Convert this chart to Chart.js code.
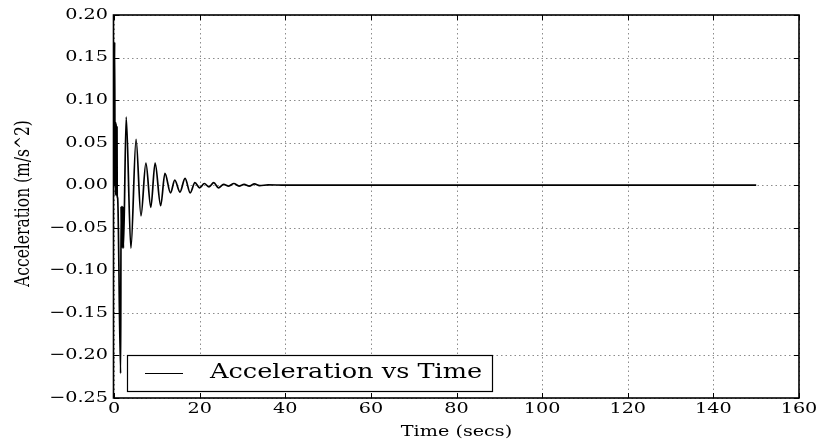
<!DOCTYPE html>
<html>
<head>
<meta charset="utf-8">
<script src="https://cdn.jsdelivr.net/npm/chart.js@4.4.1/dist/chart.umd.min.js"></script>
<style>
    body { margin: 0; background: #ffffff; }
    #chart-container { width: 818px; height: 445px; }
</style>
</head>
<body>
<div id="chart-container"><canvas id="accel-chart" width="818" height="445"></canvas></div>
<script>
var TIME_SECS = [0, 0.15, 0.25, 0.3, 0.35, 0.4, 0.45, 0.5, 0.55, 0.6, 0.65, 0.7, 0.75, 0.85,
    1.55, 1.65, 1.75, 1.85, 1.95, 2.05, 2.2, 2.85, 3.95, 5.15, 6.3, 7.45, 8.6, 9.6, 10.9,
    11.9, 13.2, 14.2, 15.4, 16.6, 17.8, 18.9, 20.0, 21.1, 22.2, 23.3, 24.4, 25.6, 26.8,
    28.0, 29.2, 30.4, 31.6, 32.8, 34.0, 36, 40, 150];
var ACCELERATION = [0, 0.168, 0.0, 0.074, -0.012, 0.074, -0.010, 0.072, -0.012, 0.070, -0.010, 0.068, -0.012, -0.015,
    -0.221, -0.025, -0.074, -0.025, -0.074, -0.025, -0.074, 0.080, -0.074, 0.054, -0.036, 0.026, -0.026, 0.026, -0.024,
    0.014, -0.009, 0.006, -0.008, 0.008, -0.009, 0.003, -0.003, 0.002, -0.002, 0.003, -0.003, 0.001, -0.001,
    0.002, -0.001, 0.001, -0.001, 0.0015, -0.0005, 0.0005, 0, 0];

var X_TICKS = [0, 20, 40, 60, 80, 100, 120, 140, 160];
var Y_TICKS = [0.20, 0.15, 0.10, 0.05, 0.00, -0.05, -0.10, -0.15, -0.20, -0.25];

var SERIES_LABEL = 'Acceleration vs Time';
var X_TITLE = 'Time (secs)';
var Y_TITLE = 'Acceleration (m/s^2)';

// картинка растянута по горизонтали, текст тоже
const STRETCH = 1.28;
const FONT = '"DejaVu Serif", serif';

function formatTick(v) {
    var s = Math.abs(v).toFixed(2);
    return (v < -1e-9 ? '\u2212' : '') + s;
}

function drawStretched(ctx, text, x, y, align) {
    ctx.save();
    ctx.translate(x, y);
    ctx.scale(STRETCH, 1);
    ctx.textAlign = align;
    ctx.textBaseline = 'middle';
    ctx.fillText(text, 0, 0);
    ctx.restore();
}

/******************* Grid (under the line) *********************/

var gridPlugin = {
    id: 'dottedGrid',
    beforeDatasetsDraw: function(chart) {
        var ctx = chart.ctx;
        var area = chart.chartArea;
        var xs = chart.scales.x, ys = chart.scales.y;
        ctx.save();
        ctx.strokeStyle = '#8c8c8c';
        ctx.lineWidth = 1;
        ctx.setLineDash([1.5, 3]);
        for (var v of X_TICKS) {
            var px = Math.round(xs.getPixelForValue(v)) + 0.5;
            ctx.beginPath();
            ctx.moveTo(px, area.top);
            ctx.lineTo(px, area.bottom);
            ctx.stroke();
        }
        for (var v of Y_TICKS) {
            var py = Math.round(ys.getPixelForValue(v)) + 0.5;
            ctx.beginPath();
            ctx.moveTo(area.left, py);
            ctx.lineTo(area.right, py);
            ctx.stroke();
        }
        ctx.restore();
    }
};

/******************* Frame, ticks, labels, legend *********************/

var framePlugin = {
    id: 'frameAndText',
    afterDraw: function(chart) {
        var ctx = chart.ctx;
        var area = chart.chartArea;
        var xs = chart.scales.x, ys = chart.scales.y;
        ctx.save();

        // рамка
        ctx.strokeStyle = '#000000';
        ctx.lineWidth = 1.6;
        ctx.strokeRect(area.left - 0.5, area.top, area.right - area.left + 0.5, area.bottom - area.top);

        // засечки внутрь со всех сторон
        ctx.lineWidth = 1;
        const TICK_LEN = 5;
        for (var v of X_TICKS) {
            var px = Math.round(xs.getPixelForValue(v)) + 0.5;
            ctx.beginPath();
            ctx.moveTo(px, area.bottom); ctx.lineTo(px, area.bottom - TICK_LEN);
            ctx.moveTo(px, area.top); ctx.lineTo(px, area.top + TICK_LEN);
            ctx.stroke();
        }
        for (var v of Y_TICKS) {
            var py = Math.round(ys.getPixelForValue(v)) + 0.5;
            ctx.beginPath();
            ctx.moveTo(area.left, py); ctx.lineTo(area.left + TICK_LEN, py);
            ctx.moveTo(area.right, py); ctx.lineTo(area.right - TICK_LEN, py);
            ctx.stroke();
        }

        // подписи делений
        ctx.fillStyle = '#000000';
        ctx.font = '15px ' + FONT;
        for (var v of X_TICKS) {
            drawStretched(ctx, String(v), xs.getPixelForValue(v), area.bottom + 11, 'center');
        }
        for (var v of Y_TICKS) {
            drawStretched(ctx, formatTick(v), area.left - 6, ys.getPixelForValue(v), 'right');
        }

        // подписи осей
        ctx.font = '15px ' + FONT;
        drawStretched(ctx, X_TITLE, (area.left + area.right) / 2, 432, 'center');

        ctx.save();
        ctx.translate(24, (area.top + area.bottom) / 2 - 3);
        ctx.rotate(-Math.PI / 2);
        ctx.scale(1, STRETCH);
        ctx.font = '15.5px ' + FONT;
        ctx.textAlign = 'center';
        ctx.textBaseline = 'middle';
        ctx.fillText(Y_TITLE, 0, 0);
        ctx.restore();

        // легенда
        var box = {left: 127, top: 355, right: 492, bottom: 391};
        ctx.fillStyle = '#ffffff';
        ctx.fillRect(box.left, box.top, box.right - box.left, box.bottom - box.top);
        ctx.strokeStyle = '#000000';
        ctx.lineWidth = 1.2;
        ctx.strokeRect(box.left + 0.5, box.top + 0.5, box.right - box.left, box.bottom - box.top);
        ctx.lineWidth = 1.2;
        ctx.beginPath();
        ctx.moveTo(145, 373.5);
        ctx.lineTo(183, 373.5);
        ctx.stroke();
        ctx.fillStyle = '#000000';
        ctx.font = '20px ' + FONT;
        drawStretched(ctx, SERIES_LABEL, 210, 373, 'left');

        ctx.restore();
    }
};

/******************* Chart *********************/

function buildPoints() {
    var points = [];
    for (var i = 0; i < TIME_SECS.length; i++) {
        points.push({x: TIME_SECS[i], y: ACCELERATION[i]});
    }
    return points;
}

var ctx = document.getElementById('accel-chart').getContext('2d');
var chart = new Chart(ctx, {
    type: 'line',
    data: {
        datasets: [{
            label: SERIES_LABEL,
            data: buildPoints(),
            borderColor: '#000000',
            borderWidth: 1.7,
            pointRadius: 0,
            fill: false,
            cubicInterpolationMode: 'monotone',
        }]
    },
    options: {
        responsive: false,
        animation: false,
        layout: { padding: {top: 15, right: 19, left: 0, bottom: 0} },
        plugins: { legend: {display: false}, tooltip: {enabled: false} },
        scales: {
            x: {
                type: 'linear', min: 0, max: 160,
                grid: {display: false}, border: {display: false},
                ticks: {display: false, stepSize: 20},
                afterFit: function(scale) { scale.height = 47; }
            },
            y: {
                type: 'linear', min: -0.25, max: 0.20,
                grid: {display: false}, border: {display: false},
                ticks: {display: false, stepSize: 0.05},
                afterFit: function(scale) { scale.width = 114; }
            }
        }
    },
    plugins: [gridPlugin, framePlugin]
});
</script>
</body>
</html>
